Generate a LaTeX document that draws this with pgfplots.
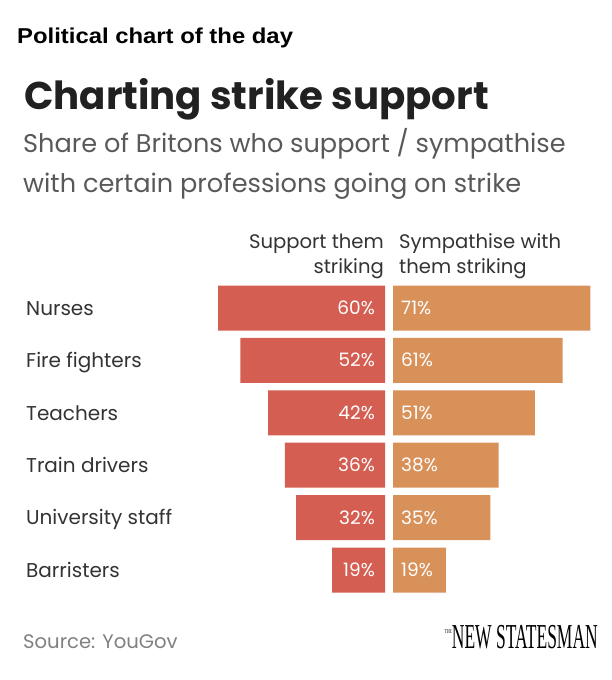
\documentclass[border=0pt]{standalone}
\usepackage{pgfplots}
\pgfplotsset{compat=1.18}
\usepackage{pgfplotstable}
\usepackage{fontspec}
\setmainfont{Poppins}
\newfontfamily\arialfont{Liberation Sans}
\newfontfamily\logofont{Liberation Serif}
\definecolor{supred}{HTML}{D55E52}
\definecolor{symorange}{HTML}{D9915A}
\definecolor{txt}{HTML}{333333}

\pgfplotstableread[col sep=comma]{
cat,sup,sym
Nurses,60,71
Fire fighters,52,61
Teachers,42,51
Train drivers,36,38
University staff,32,35
Barristers,19,19
}\strikedata

\begin{document}
\begin{tikzpicture}[x=1pt,y=1pt]
\path[use as bounding box] (0,0) rectangle (611,-680);
\node[anchor=base west, font=\arialfont\bfseries\fontsize{21.5}{25}\selectfont, text=black, inner sep=0] at (17,-43) {\scalebox{1.11}[1]{Political chart of the day}};
\node[anchor=base west, font=\bfseries\fontsize{38.7}{44}\selectfont, text=black!87, inner sep=0] at (24,-109) {Charting strike support};
\node[anchor=base west, font=\fontsize{25.6}{30}\selectfont, text=black!65, inner sep=0] at (23,-152) {Share of Britons who support / sympathise};
\node[anchor=base west, font=\fontsize{25.6}{30}\selectfont, text=black!65, inner sep=0] at (23,-192) {with certain professions going on strike};
\node[anchor=base east, font=\fontsize{19.6}{24}\selectfont, text=txt, inner sep=0] at (384,-248) {Support them};
\node[anchor=base east, font=\fontsize{19.6}{24}\selectfont, text=txt, inner sep=0] at (384,-273) {striking};
\node[anchor=base west, font=\fontsize{19.6}{24}\selectfont, text=txt, inner sep=0] at (399,-248) {Sympathise with};
\node[anchor=base west, font=\fontsize{19.6}{24}\selectfont, text=txt, inner sep=0] at (399,-273) {them striking};
% category labels
\foreach \lab [count=\i from 0] in {Nurses,Fire fighters,Teachers,Train drivers,University staff,Barristers}{
  \node[anchor=base west, font=\fontsize{20}{24}\selectfont, text=txt, inner sep=0] at (26,{-308.2-52.4*\i-7}) {\lab};
}
\begin{axis}[at={(385pt,-281.8pt)}, anchor=north east, scale only axis,
  width=185pt, height=314.4pt, x dir=reverse, y dir=reverse,
  xmin=0, xmax=66.55, ymin=-0.5, ymax=5.5, axis lines=none, clip=false]
\addplot[xbar, bar width=45pt, fill=supred, draw=none] table[x=sup, y expr=\coordindex]{\strikedata};
\foreach \v [count=\i from 0] in {60,52,42,36,32,19}{
  \edef\tmp{\noexpand\node[anchor=base east, xshift=-10pt, yshift=-6.5pt, text=white, font=\noexpand\fontsize{18.5}{20}\noexpand\selectfont, inner sep=0] at (axis cs:0,\i) {\v\noexpand\%};}
  \tmp
}
\end{axis}
\begin{axis}[at={(393pt,-281.8pt)}, anchor=north west, scale only axis,
  width=207pt, height=314.4pt, y dir=reverse,
  xmin=0, xmax=74.46, ymin=-0.5, ymax=5.5, axis lines=none, clip=false]
\addplot[xbar, bar width=45pt, fill=symorange, draw=none] table[x=sym, y expr=\coordindex]{\strikedata};
\foreach \v [count=\i from 0] in {71,61,51,38,35,19}{
  \edef\tmp{\noexpand\node[anchor=base west, xshift=8pt, yshift=-6.5pt, text=white, font=\noexpand\fontsize{18.5}{20}\noexpand\selectfont, inner sep=0] at (axis cs:0,\i) {\v\noexpand\%};}
  \tmp
}
\end{axis}
\node[anchor=base west, font=\fontsize{19.6}{22}\selectfont, text=black!50, inner sep=0] at (23,-648) {Source: YouGov};
\node[anchor=base east, inner sep=0] at (598,-648) {\logofont\raisebox{15pt}{\fontsize{6}{6}\selectfont\scalebox{0.6}[1]{THE}}\scalebox{0.5}[1]{\fontsize{35}{35}\selectfont NEW STATESMAN}};
\end{tikzpicture}
\end{document}
